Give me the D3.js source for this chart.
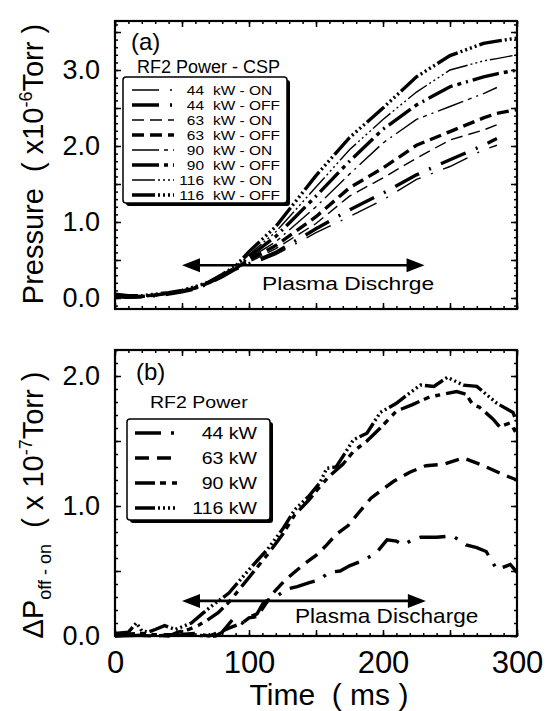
<!DOCTYPE html>
<html><head><meta charset="utf-8">
<script src="https://cdn.jsdelivr.net/npm/d3@7"></script>
<style>
html,body{margin:0;padding:0;background:#fff;}
text{white-space:pre;}
</style></head>
<body><div id="chart"></div>
<script>
// ---------- DATA ----------
const timeTicksMajor = [0,50,100,150,200,250,300];
const timeTickLabels = [0,100,200,300];
const pressTickLabels = [0,1,2,3];
const deltaTickLabels = [0,1,2];

// Panel (a): pressure (x10^-6 Torr) vs time (ms)
const tA = [0,10,20,30,40,50,60,70,80,90,100,120,150,175,200,225,250,275,285,300];
const a116off = [0.05,0.03,0.03,0.05,0.07,0.10,0.15,0.21,0.31,0.42,0.61,0.94,1.61,2.11,2.50,2.91,3.19,3.35,3.38,3.42];
const a116on  = [0.04,0.02,0.03,0.04,0.06,0.09,0.14,0.21,0.30,0.41,0.57,0.87,1.46,1.95,2.35,2.71,3.00,3.12,3.15,3.20];
const a90off  = [0.04,0.02,0.02,0.04,0.06,0.09,0.14,0.20,0.30,0.40,0.54,0.81,1.34,1.80,2.22,2.54,2.78,2.91,2.95,3.00];
const a90on   = [0.03,0.02,0.02,0.04,0.06,0.09,0.13,0.20,0.29,0.40,0.52,0.74,1.20,1.63,2.04,2.35,2.52,2.69,2.77,null];
const a63off  = [0.03,0.01,0.02,0.04,0.06,0.09,0.13,0.20,0.29,0.39,0.50,0.69,1.07,1.45,1.71,2.01,2.19,2.37,2.43,2.48];
const a63on   = [0.03,0.01,0.02,0.03,0.05,0.08,0.13,0.19,0.29,0.39,0.47,0.65,0.98,1.34,1.58,1.84,2.08,2.21,2.28,null];
const a44off  = [0.02,0.01,0.02,0.03,0.05,0.08,0.12,0.19,0.28,0.38,0.45,0.60,0.91,1.16,1.38,1.62,1.82,2.01,2.10,null];
const a44on   = [0.02,0.00,0.01,0.03,0.05,0.08,0.12,0.19,0.28,0.38,0.43,0.57,0.86,1.07,1.29,1.56,1.73,1.95,2.01,null];

// Panel (b): delta P off-on (x10^-7 Torr) vs time (ms)
const b116T = [0,10,16,20,25,30,37,45,57,65,72,85,100,114,125,134,145,153,158,165,170,178,188,198,210,220,228,238,248,260,270,285,297,300];
const b116V = [0.02,0.03,0.10,0.04,0.03,0.05,0.08,0.05,0.10,0.17,0.23,0.33,0.51,0.67,0.82,0.97,1.08,1.18,1.29,1.30,1.38,1.51,1.56,1.72,1.79,1.87,1.93,1.92,1.99,1.93,1.92,1.79,1.72,1.64];
const b90T = [0,20,40,47,55,62,70,77,85,100,114,125,134,145,153,160,170,178,188,198,210,222,235,245,255,262,267,272,282,287,295,300];
const b90V = [0.01,0.02,0.00,0.03,0.05,0.08,0.13,0.18,0.26,0.45,0.63,0.78,0.93,1.05,1.15,1.23,1.32,1.42,1.50,1.60,1.73,1.78,1.84,1.86,1.88,1.86,1.78,1.76,1.67,1.61,1.64,1.55];
const b63T = [0,30,60,70,78,85,95,100,106,112,118,127,135,142,150,157,165,174,182,191,200,208,220,232,245,260,275,290,300];
const b63V = [0.01,0.00,0.02,0.00,0.03,0.06,0.10,0.14,0.15,0.24,0.33,0.43,0.50,0.56,0.62,0.69,0.78,0.85,0.95,1.06,1.13,1.19,1.26,1.31,1.32,1.37,1.31,1.24,1.20];
const b44T = [0,40,75,80,88,95,101,106,111,120,128,132,136,145,152,160,168,175,185,195,203,210,215,222,228,240,252,262,270,277,285,290,295,300];
const b44V = [0.00,0.01,0.00,0.03,0.13,0.10,0.15,0.17,0.26,0.30,0.36,0.37,0.38,0.41,0.43,0.49,0.50,0.54,0.58,0.64,0.74,0.73,0.70,0.74,0.76,0.76,0.77,0.70,0.68,0.65,0.51,0.53,0.55,0.49];

// Discharge arrows (time span, level)
const dischargeA = {t0:50, t1:231, v:0.43};
const dischargeB = {t0:50, t1:232, v:0.27};

// ---------- STYLES ----------
const FONT = "'Liberation Sans', Arial, Helvetica, sans-serif";
const THIN = 1.4, THICK = 3.4;
const dashA = {"44":"27,11,2,11", "63":"12,6", "90":"27,5,4,5,2,5", "116":"23,3,2,3,2,3,2,3,2,3"};
const dashB = {"44":"26,10,3,10", "63":"14,8", "90":"20,5,6,6,5,6", "116":"20,3,2,3,2,3,2,3,2,3"};

const seriesA = [
  {p:"44", st:"ON",  v:a44on,  w:THIN},
  {p:"44", st:"OFF", v:a44off, w:THICK},
  {p:"63", st:"ON",  v:a63on,  w:THIN},
  {p:"63", st:"OFF", v:a63off, w:THICK},
  {p:"90", st:"ON",  v:a90on,  w:THIN},
  {p:"90", st:"OFF", v:a90off, w:THICK},
  {p:"116",st:"ON",  v:a116on, w:THIN},
  {p:"116",st:"OFF", v:a116off,w:THICK}
];
const seriesB = [
  {p:"44", t:b44T, v:b44V},
  {p:"63", t:b63T, v:b63V},
  {p:"90", t:b90T, v:b90V},
  {p:"116",t:b116T, v:b116V}
];

// ---------- LAYOUT ----------
const W = 558, H = 711;
const svg = d3.select("#chart").append("svg").attr("width", W).attr("height", H)
  .style("font-family", FONT);
svg.append("rect").attr("width", W).attr("height", H).attr("fill", "#fff");

const x = d3.scaleLinear().domain([0,300]).range([115,517]);
const yA = d3.scaleLinear().domain([-0.145,3.645]).range([309,21]);
const yB = d3.scaleLinear().domain([0,2.2]).range([636,350]);

function txt(parent, s, px, py, size, anchor, sx){
  return parent.append("text")
    .attr("transform", `translate(${px},${py}) scale(${sx||1},1)`)
    .attr("text-anchor", anchor||"start")
    .attr("font-size", size).attr("fill", "#000").text(s);
}

function frame(y, yMajorStep, showXLabels, yLabels){
  const g = svg.append("g");
  const [yb, yt] = y.range();
  const [v0, v1] = y.domain();
  const yMajor = d3.range(Math.ceil(v0/yMajorStep)*yMajorStep, v1+1e-9, yMajorStep);
  const yMinor = d3.range(Math.ceil(v0/0.1)*0.1, v1+1e-9, 0.1);
  const tMinor = d3.range(0,301,10);
  const clean = s => s.call(a => a.select(".domain").remove());
  const style = s => s.selectAll("line").attr("stroke","#000").attr("stroke-width",1.5);
  const specs = [
    [d3.axisBottom(x).tickValues(timeTicksMajor).tickSize(-6), `translate(0,${yb})`],
    [d3.axisBottom(x).tickValues(tMinor).tickSize(-3), `translate(0,${yb})`],
    [d3.axisTop(x).tickValues(timeTicksMajor).tickSize(-6), `translate(0,${yt})`],
    [d3.axisTop(x).tickValues(tMinor).tickSize(-3), `translate(0,${yt})`],
    [d3.axisLeft(y).tickValues(yMajor).tickSize(-6), `translate(115,0)`],
    [d3.axisLeft(y).tickValues(yMinor).tickSize(-3), `translate(115,0)`],
    [d3.axisRight(y).tickValues(yMajor).tickSize(-6), `translate(517,0)`],
    [d3.axisRight(y).tickValues(yMinor).tickSize(-3), `translate(517,0)`]
  ];
  specs.forEach(([ax, tr]) => {
    g.append("g").attr("transform", tr).call(ax.tickFormat("")).call(clean).call(style);
  });
  g.append("rect").attr("x",115).attr("y",yt).attr("width",402).attr("height",yb-yt)
    .attr("fill","none").attr("stroke","#000").attr("stroke-width",2.2);
  g.append("g").attr("transform","translate(115,0)")
    .call(d3.axisLeft(y).tickValues(yLabels).tickSize(0).tickPadding(15).tickFormat(d3.format(".1f")))
    .call(clean)
    .call(s => s.selectAll("text").attr("font-size",27).attr("font-family",FONT).attr("fill","#000"));
  if (showXLabels){
    g.append("g").attr("transform",`translate(0,${yb})`)
      .call(d3.axisBottom(x).tickValues(timeTickLabels).tickSize(0).tickPadding(15).tickFormat(d3.format("d")))
      .call(clean)
      .call(s => s.selectAll("text").attr("font-size",31).attr("font-family",FONT).attr("fill","#000"));
  }
  return g;
}

function arrow(y, d){
  const g = svg.append("g");
  const y0 = y(d.v), xa = x(d.t0), xb = x(d.t1), L = 18, h = 7;
  g.append("line").attr("x1",xa+L-2).attr("x2",xb-L+2).attr("y1",y0).attr("y2",y0)
    .attr("stroke","#000").attr("stroke-width",2.6);
  g.append("path").attr("d",`M${xa},${y0}L${xa+L},${y0-h}L${xa+L},${y0+h}Z`).attr("fill","#000");
  g.append("path").attr("d",`M${xb},${y0}L${xb-L},${y0-h}L${xb-L},${y0+h}Z`).attr("fill","#000");
}

// ---------- PANEL A ----------
frame(yA, 0.5, false, pressTickLabels);
const lineA = d3.line().defined(d => d[1] !== null).x(d => x(d[0])).y(d => yA(d[1]));
const gA = svg.append("g");
seriesA.forEach(s => {
  gA.append("path").datum(tA.map((t,i) => [t, s.v[i]]))
    .attr("d", lineA).attr("fill","none").attr("stroke","#000")
    .attr("stroke-width", s.w).attr("stroke-dasharray", dashA[s.p]);
});
arrow(yA, dischargeA);
txt(svg, "Plasma Dischrge", 262, 290, 19, "start", 1.2);
txt(svg, "(a)", 131, 50, 24);

// legend A
txt(svg, "RF2 Power - CSP", 137, 73, 18);
svg.append("rect").attr("x",126).attr("y",80).attr("width",164).attr("height",126).attr("rx",3).attr("fill","#000");
svg.append("rect").attr("x",123).attr("y",77).attr("width",164).attr("height",126).attr("rx",3)
  .attr("fill","#fff").attr("stroke","#000").attr("stroke-width",1.5);
seriesA.forEach((s,i) => {
  const cy = 90 + i*15;
  svg.append("line").attr("x1",132).attr("x2",174).attr("y1",cy).attr("y2",cy)
    .attr("stroke","#000").attr("stroke-width",s.w).attr("stroke-dasharray",dashA[s.p]);
  txt(svg, s.p, 204, cy+5, 13.2, "end", 1.17);
  txt(svg, "kW - " + s.st, 213, cy+5, 13.2, "start", 1.17);
});

// Y title A
const ta = svg.append("text").attr("transform","translate(43,164) rotate(-90)")
  .attr("text-anchor","middle").attr("font-size",29).attr("fill","#000");
ta.append("tspan").text("Pressure  ( x10");
ta.append("tspan").attr("font-size",18).attr("dy",-11).text("-6");
ta.append("tspan").attr("dy",11).text("Torr )");

// ---------- PANEL B ----------
frame(yB, 0.5, true, deltaTickLabels);
const lineB = d3.line().x(d => x(d[0])).y(d => yB(d[1]));
const gB = svg.append("g");
seriesB.forEach(s => {
  gB.append("path").datum(s.t.map((t,i) => [t, s.v[i]]))
    .attr("d", lineB).attr("fill","none").attr("stroke","#000")
    .attr("stroke-width", THICK).attr("stroke-dasharray", dashB[s.p]);
});
arrow(yB, dischargeB);
txt(svg, "Plasma Discharge", 295, 623, 20, "start", 1.13);
txt(svg, "(b)", 136, 380, 24);

// legend B
txt(svg, "RF2 Power", 150, 408, 17, "start", 1.15);
svg.append("rect").attr("x",130).attr("y",422).attr("width",143).attr("height",101).attr("rx",3).attr("fill","#000");
svg.append("rect").attr("x",127).attr("y",419).attr("width",143).attr("height",101).attr("rx",3)
  .attr("fill","#fff").attr("stroke","#000").attr("stroke-width",1.5);
seriesB.forEach((s,i) => {
  const cy = 433 + i*25;
  svg.append("line").attr("x1",135).attr("x2",178).attr("y1",cy).attr("y2",cy)
    .attr("stroke","#000").attr("stroke-width",THICK).attr("stroke-dasharray",dashB[s.p]);
  txt(svg, s.p + " kW", 257, cy+6, 17, "end", 1.15);
});

// Y title B
const tb = svg.append("text").attr("transform","translate(43,505) rotate(-90)")
  .attr("text-anchor","middle").attr("font-size",29).attr("fill","#000");
tb.append("tspan").text("\u0394P");
tb.append("tspan").attr("font-size",18).attr("dy",8).text("off - on");
tb.append("tspan").attr("dy",-8).text("  ( x 10");
tb.append("tspan").attr("font-size",18).attr("dy",-11).text("-7");
tb.append("tspan").attr("dy",11).text("Torr )");

// X title
txt(svg, "Time  ( ms )", 329, 705, 30, "middle");
</script></body></html>
